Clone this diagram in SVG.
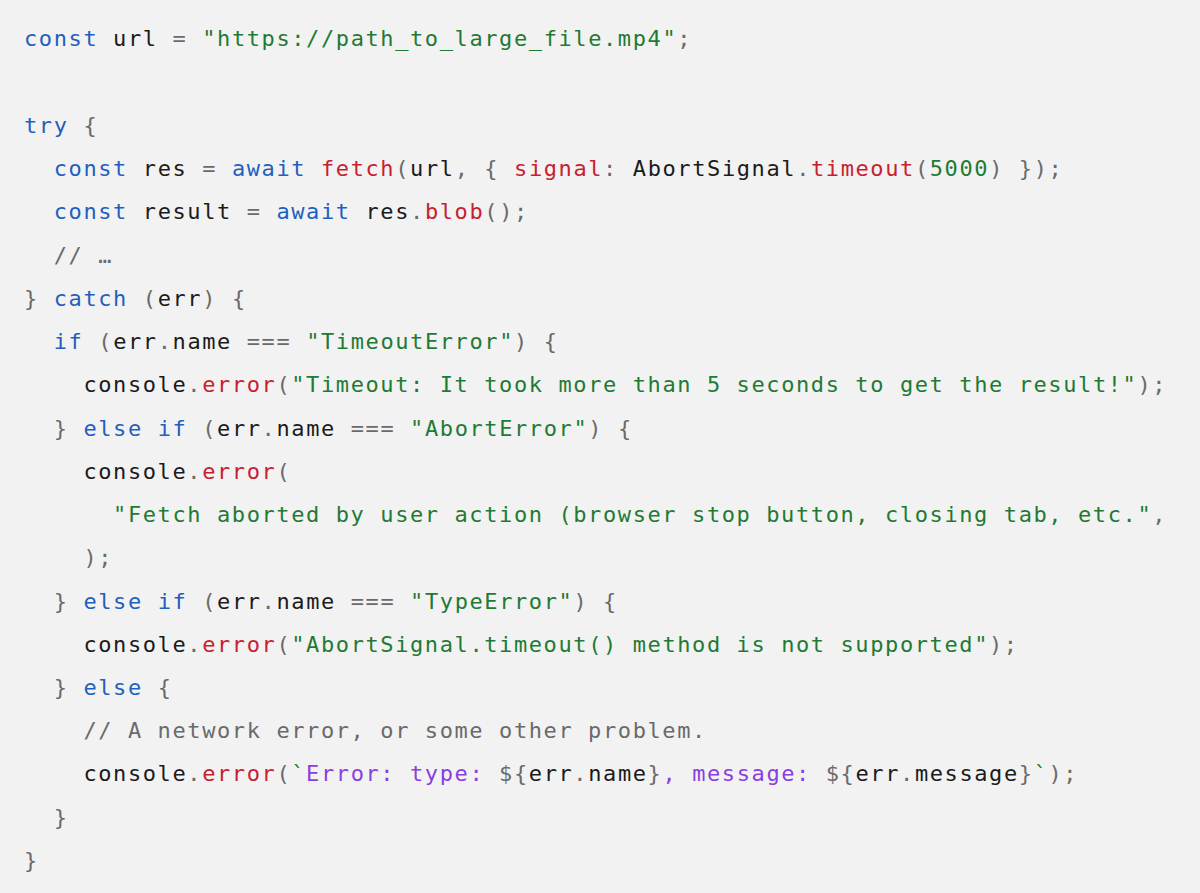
<svg xmlns="http://www.w3.org/2000/svg" width="1200" height="893" viewBox="0 0 1200 893">
<style>
text{font-family:"DejaVu Sans Mono","Liberation Mono",monospace;font-size:22px;letter-spacing:1.6px;fill:#1b1b1b;white-space:pre}
.k{fill:#1f5fbf}.s{fill:#1f7a34}.r{fill:#c8202f}.p{fill:#6a6a6a}.v{fill:#8a3ee0}
</style>
<rect width="1200" height="893" fill="#f2f2f2"/>
<g id="code" xml:space="preserve">
<text x="24" y="46"><tspan class="k">const</tspan> url <tspan class="p">=</tspan> <tspan class="s">"https://path_to_large_file.mp4"</tspan><tspan class="p">;</tspan></text>
<text x="24" y="133"><tspan class="k">try</tspan> <tspan class="p">{</tspan></text>
<text x="24" y="176">  <tspan class="k">const</tspan> res <tspan class="p">=</tspan> <tspan class="k">await</tspan> <tspan class="r">fetch</tspan><tspan class="p">(</tspan>url<tspan class="p">, {</tspan> <tspan class="r">signal</tspan><tspan class="p">:</tspan> AbortSignal<tspan class="p">.</tspan><tspan class="r">timeout</tspan><tspan class="p">(</tspan><tspan class="s">5000</tspan><tspan class="p">) });</tspan></text>
<text x="24" y="219">  <tspan class="k">const</tspan> result <tspan class="p">=</tspan> <tspan class="k">await</tspan> res<tspan class="p">.</tspan><tspan class="r">blob</tspan><tspan class="p">();</tspan></text>
<text x="24" y="263">  <tspan class="p">// …</tspan></text>
<text x="24" y="306"><tspan class="p">}</tspan> <tspan class="k">catch</tspan> <tspan class="p">(</tspan>err<tspan class="p">) {</tspan></text>
<text x="24" y="349">  <tspan class="k">if</tspan> <tspan class="p">(</tspan>err<tspan class="p">.</tspan>name <tspan class="p">===</tspan> <tspan class="s">"TimeoutError"</tspan><tspan class="p">) {</tspan></text>
<text x="24" y="392">    console<tspan class="p">.</tspan><tspan class="r">error</tspan><tspan class="p">(</tspan><tspan class="s">"Timeout: It took more than 5 seconds to get the result!"</tspan><tspan class="p">);</tspan></text>
<text x="24" y="436">  <tspan class="p">}</tspan> <tspan class="k">else if</tspan> <tspan class="p">(</tspan>err<tspan class="p">.</tspan>name <tspan class="p">===</tspan> <tspan class="s">"AbortError"</tspan><tspan class="p">) {</tspan></text>
<text x="24" y="479">    console<tspan class="p">.</tspan><tspan class="r">error</tspan><tspan class="p">(</tspan></text>
<text x="24" y="522">      <tspan class="s">"Fetch aborted by user action (browser stop button, closing tab, etc."</tspan><tspan class="p">,</tspan></text>
<text x="24" y="565">    <tspan class="p">);</tspan></text>
<text x="24" y="609">  <tspan class="p">}</tspan> <tspan class="k">else if</tspan> <tspan class="p">(</tspan>err<tspan class="p">.</tspan>name <tspan class="p">===</tspan> <tspan class="s">"TypeError"</tspan><tspan class="p">) {</tspan></text>
<text x="24" y="652">    console<tspan class="p">.</tspan><tspan class="r">error</tspan><tspan class="p">(</tspan><tspan class="s">"AbortSignal.timeout() method is not supported"</tspan><tspan class="p">);</tspan></text>
<text x="24" y="695">  <tspan class="p">}</tspan> <tspan class="k">else</tspan> <tspan class="p">{</tspan></text>
<text x="24" y="738">    <tspan class="p">// A network error, or some other problem.</tspan></text>
<text x="24" y="781">    console<tspan class="p">.</tspan><tspan class="r">error</tspan><tspan class="p">(</tspan><tspan class="s">`</tspan><tspan class="v">Error: type: </tspan><tspan class="p">${</tspan>err<tspan class="p">.</tspan>name<tspan class="p">}</tspan><tspan class="v">, message: </tspan><tspan class="p">${</tspan>err<tspan class="p">.</tspan>message<tspan class="p">}</tspan><tspan class="s">`</tspan><tspan class="p">);</tspan></text>
<text x="24" y="825">  <tspan class="p">}</tspan></text>
<text x="24" y="868"><tspan class="p">}</tspan></text>
</g>
</svg>
